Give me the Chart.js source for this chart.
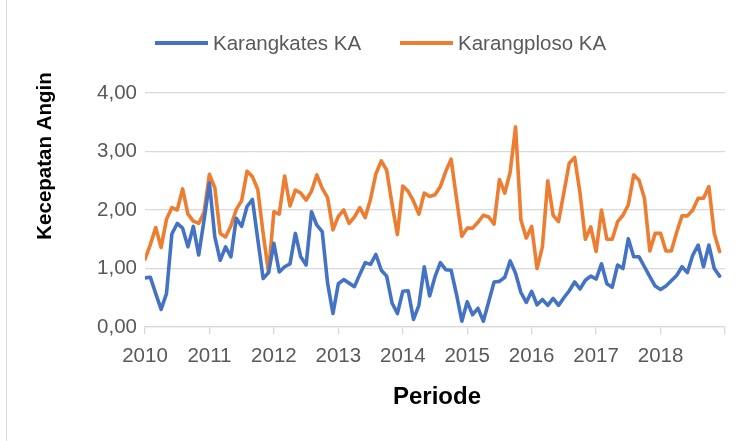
<!DOCTYPE html>
<html>
<head>
<meta charset="utf-8">
<script src="https://cdn.jsdelivr.net/npm/chart.js@4.4.1/dist/chart.umd.min.js"></script>
<style>
  html, body { margin: 0; padding: 0; background: #fff; }
  #wrap { width: 745px; height: 441px; }
</style>
</head>
<body>
<div id="wrap"><canvas id="angin"></canvas></div>
<script>
// monthly wind speed, Jan 2010 - Dec 2018
const years = ["2010", "2011", "2012", "2013", "2014", "2015", "2016", "2017", "2018"];

const karangkates = [
    0.84, 0.85, 0.57, 0.30, 0.57, 1.59, 1.77, 1.69, 1.37, 1.72, 1.23, 1.83,
    2.46, 1.54, 1.14, 1.37, 1.20, 1.86, 1.72, 2.06, 2.18, 1.50, 0.83, 0.93,
    1.43, 0.94, 1.03, 1.08, 1.60, 1.20, 1.06, 1.97, 1.74, 1.63, 0.75, 0.23,
    0.74, 0.81, 0.75, 0.69, 0.90, 1.10, 1.07, 1.24, 0.97, 0.87, 0.41, 0.23,
    0.61, 0.62, 0.13, 0.37, 1.03, 0.53, 0.86, 1.10, 0.98, 0.97, 0.56, 0.10,
    0.43, 0.21, 0.32, 0.10, 0.43, 0.77, 0.78, 0.85, 1.13, 0.92, 0.59, 0.42,
    0.61, 0.38, 0.47, 0.37, 0.49, 0.37, 0.50, 0.62, 0.77, 0.65, 0.80, 0.87,
    0.82, 1.08, 0.74, 0.68, 1.06, 1.00, 1.51, 1.20, 1.20, 1.03, 0.86, 0.70,
    0.64, 0.70, 0.79, 0.88, 1.03, 0.93, 1.23, 1.40, 1.03, 1.40, 1.00, 0.87
];

const karangploso = [
    1.16, 1.41, 1.70, 1.36, 1.84, 2.04, 2.00, 2.36, 1.93, 1.81, 1.77, 1.96,
    2.61, 2.38, 1.60, 1.54, 1.73, 2.01, 2.16, 2.66, 2.57, 2.35, 1.60, 0.93,
    1.97, 1.93, 2.58, 2.07, 2.34, 2.29, 2.17, 2.32, 2.60, 2.37, 2.21, 1.66,
    1.89, 2.00, 1.77, 1.88, 2.04, 1.87, 2.19, 2.62, 2.84, 2.68, 2.10, 1.58,
    2.41, 2.32, 2.15, 1.93, 2.29, 2.23, 2.26, 2.40, 2.66, 2.87, 2.20, 1.55,
    1.69, 1.69, 1.79, 1.91, 1.88, 1.76, 2.52, 2.29, 2.65, 3.42, 1.83, 1.52,
    1.72, 1.00, 1.37, 2.50, 1.91, 1.80, 2.30, 2.80, 2.90, 2.29, 1.50, 1.71,
    1.29, 2.00, 1.50, 1.50, 1.80, 1.91, 2.09, 2.60, 2.51, 2.20, 1.30, 1.60,
    1.60, 1.30, 1.30, 1.62, 1.90, 1.90, 2.00, 2.20, 2.20, 2.40, 1.60, 1.29
];

const seriesNames = ["Karangkates KA", "Karangploso KA"];
const seriesColors = ["#4472C4", "#ED7D31"];

const FONT = "'Liberation Sans', Arial, sans-serif";
const GREY = "#595959";
const GRID = "#d9d9d9";

// month index -> point
function toPoints(arr) {
    return arr.map(function (v, i) { return { x: i, y: v }; });
}

// Legend, axis titles and frame
const extras = {
    id: "extras",
    afterDraw: function (chart) {
        const ctx = chart.ctx;
        ctx.save();

        // left frame line
        ctx.strokeStyle = GRID;
        ctx.lineWidth = 1;
        ctx.beginPath();
        ctx.moveTo(6.5, 0);
        ctx.lineTo(6.5, 441);
        ctx.stroke();

        // legend
        const legendX = [155, 400];
        ctx.font = "20.5px " + FONT;
        ctx.textBaseline = "middle";
        ctx.textAlign = "left";
        for (let i = 0; i < seriesNames.length; i++) {
            ctx.strokeStyle = seriesColors[i];
            ctx.lineWidth = 3.8;
            ctx.beginPath();
            ctx.moveTo(legendX[i], 43);
            ctx.lineTo(legendX[i] + 53, 43);
            ctx.stroke();
            ctx.fillStyle = GREY;
            ctx.fillText(seriesNames[i], legendX[i] + 58, 44);
        }

        // axis titles
        ctx.fillStyle = "#000";
        ctx.font = "bold 24px " + FONT;
        ctx.textAlign = "center";
        ctx.fillText("Periode", 437, 397);

        ctx.font = "bold 20.5px " + FONT;
        ctx.translate(45, 156);
        ctx.rotate(-Math.PI / 2);
        ctx.fillText("Kecepatan Angin", 0, 0);
        ctx.restore();
    }
};

const ctx = document.getElementById("angin").getContext("2d");
const chart = new Chart(ctx, {
    type: "line",
    data: {
        datasets: [
            {
                label: seriesNames[0],
                data: toPoints(karangkates),
                borderColor: seriesColors[0],
                backgroundColor: seriesColors[0],
                borderWidth: 3.6,
                pointRadius: 0,
                tension: 0,
                borderJoinStyle: "round",
                borderCapStyle: "round"
            },
            {
                label: seriesNames[1],
                data: toPoints(karangploso),
                borderColor: seriesColors[1],
                backgroundColor: seriesColors[1],
                borderWidth: 3.6,
                pointRadius: 0,
                tension: 0,
                borderJoinStyle: "round",
                borderCapStyle: "round"
            }
        ]
    },
    options: {
        responsive: true,
        maintainAspectRatio: false,
        animation: false,
        events: [],
        layout: { padding: { top: 93, right: 20, bottom: 0, left: 0 } },
        plugins: {
            legend: { display: false },
            tooltip: { enabled: false }
        },
        scales: {
            x: {
                type: "linear",
                min: 0,
                max: years.length * 12,
                afterFit: function (scale) { scale.height = 114; },
                afterBuildTicks: function (scale) {
                    scale.ticks = [];
                    for (let i = 0; i <= years.length; i++) scale.ticks.push({ value: i * 12 });
                },
                ticks: {
                    autoSkip: false,
                    maxRotation: 0,
                    padding: 10,
                    color: GREY,
                    font: { family: FONT, size: 20.5 },
                    callback: function (v) {
                        const i = Math.round(v / 12);
                        return i < years.length ? years[i] : "";
                    }
                },
                grid: {
                    drawOnChartArea: false,
                    drawTicks: true,
                    tickLength: 7,
                    color: GRID,
                    lineWidth: 1.3
                },
                border: { display: true, color: GRID, width: 1.3 }
            },
            y: {
                min: 0,
                max: 4,
                afterFit: function (scale) { scale.width = 145; },
                ticks: {
                    stepSize: 1,
                    padding: 8,
                    color: GREY,
                    font: { family: FONT, size: 20.5 },
                    callback: function (v) { return v.toFixed(2).replace(".", ","); }
                },
                grid: {
                    drawTicks: false,
                    color: GRID,
                    lineWidth: 1.3
                },
                border: { display: false }
            }
        }
    },
    plugins: [extras]
});
</script>
</body>
</html>
